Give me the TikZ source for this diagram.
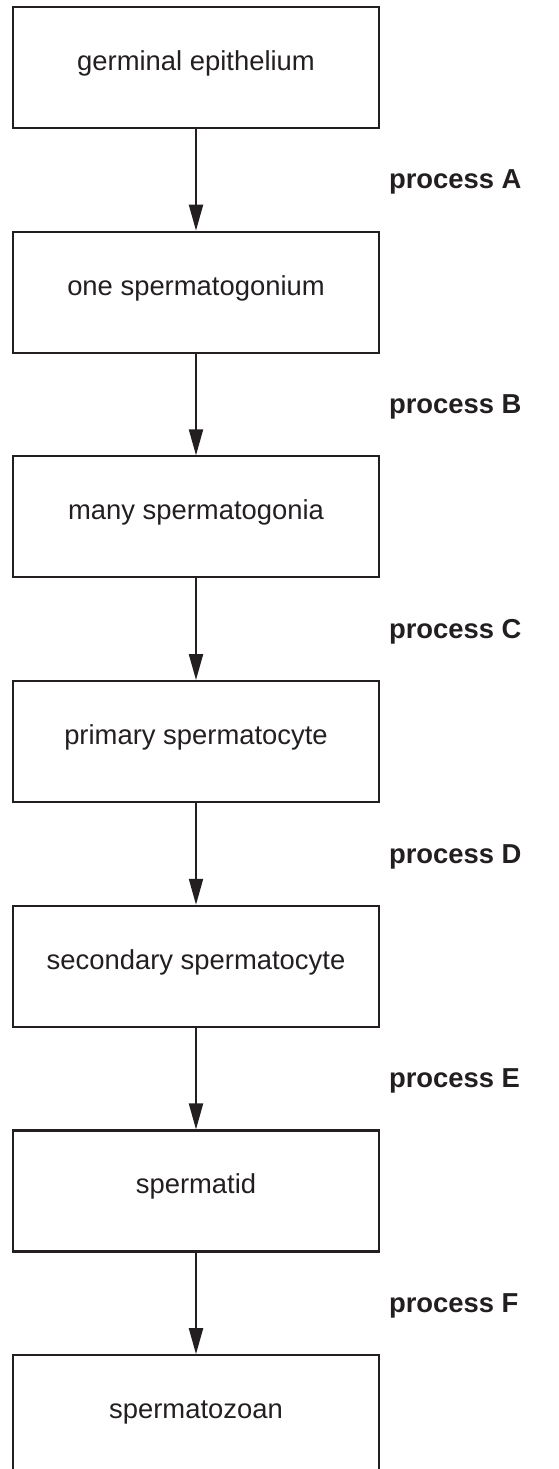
\documentclass[tikz,border=0pt]{standalone}
\usepackage{fontspec}
\setmainfont{Liberation Sans}
\usetikzlibrary{arrows.meta}

\definecolor{ink}{HTML}{231F20}

\tikzset{
  cell/.style={draw=ink, line width=1.2pt, minimum width=7.32cm, minimum height=2.42cm,
    inner sep=0pt, text=ink, text height=0.75em, text depth=0.42em},
  flow/.style={draw=ink, line width=1.2pt, -{Triangle[length=0.52cm, width=0.28cm]}},
  proc/.style={anchor=west, xshift=3.84cm, yshift=-0.05cm, inner sep=0pt,
    text=ink, font=\fontsize{15.6}{18}\selectfont\bfseries}
}

\begin{document}
\begin{tikzpicture}[x=0.02cm,y=-0.02cm,font=\fontsize{15.6}{18}\selectfont]
        \useasboundingbox (0,0) rectangle (558,1469);

        \node[cell] (epith) at (196,67.5) {germinal epithelium};
        \node[cell] (onegon) at (196,292.2) {one spermatogonium};
        \node[cell] (manygon) at (196,516.9) {many spermatogonia};
        \node[cell] (primcyte) at (196,741.6) {primary spermatocyte};
        \node[cell] (seccyte) at (196,966.3) {secondary spermatocyte};
        \node[cell] (tid) at (196,1191) {spermatid};
        \node[cell] (zoan) at (196,1415.7) {spermatozoan};

        \draw[flow] (epith) -- node[proc] {process A} (onegon);
        \draw[flow] (onegon) -- node[proc] {process B} (manygon);
        \draw[flow] (manygon) -- node[proc] {process C} (primcyte);
        \draw[flow] (primcyte) -- node[proc] {process D} (seccyte);
        \draw[flow] (seccyte) -- node[proc] {process E} (tid);
        \draw[flow] (tid) -- node[proc] {process F} (zoan);
      \end{tikzpicture}
\end{document}
